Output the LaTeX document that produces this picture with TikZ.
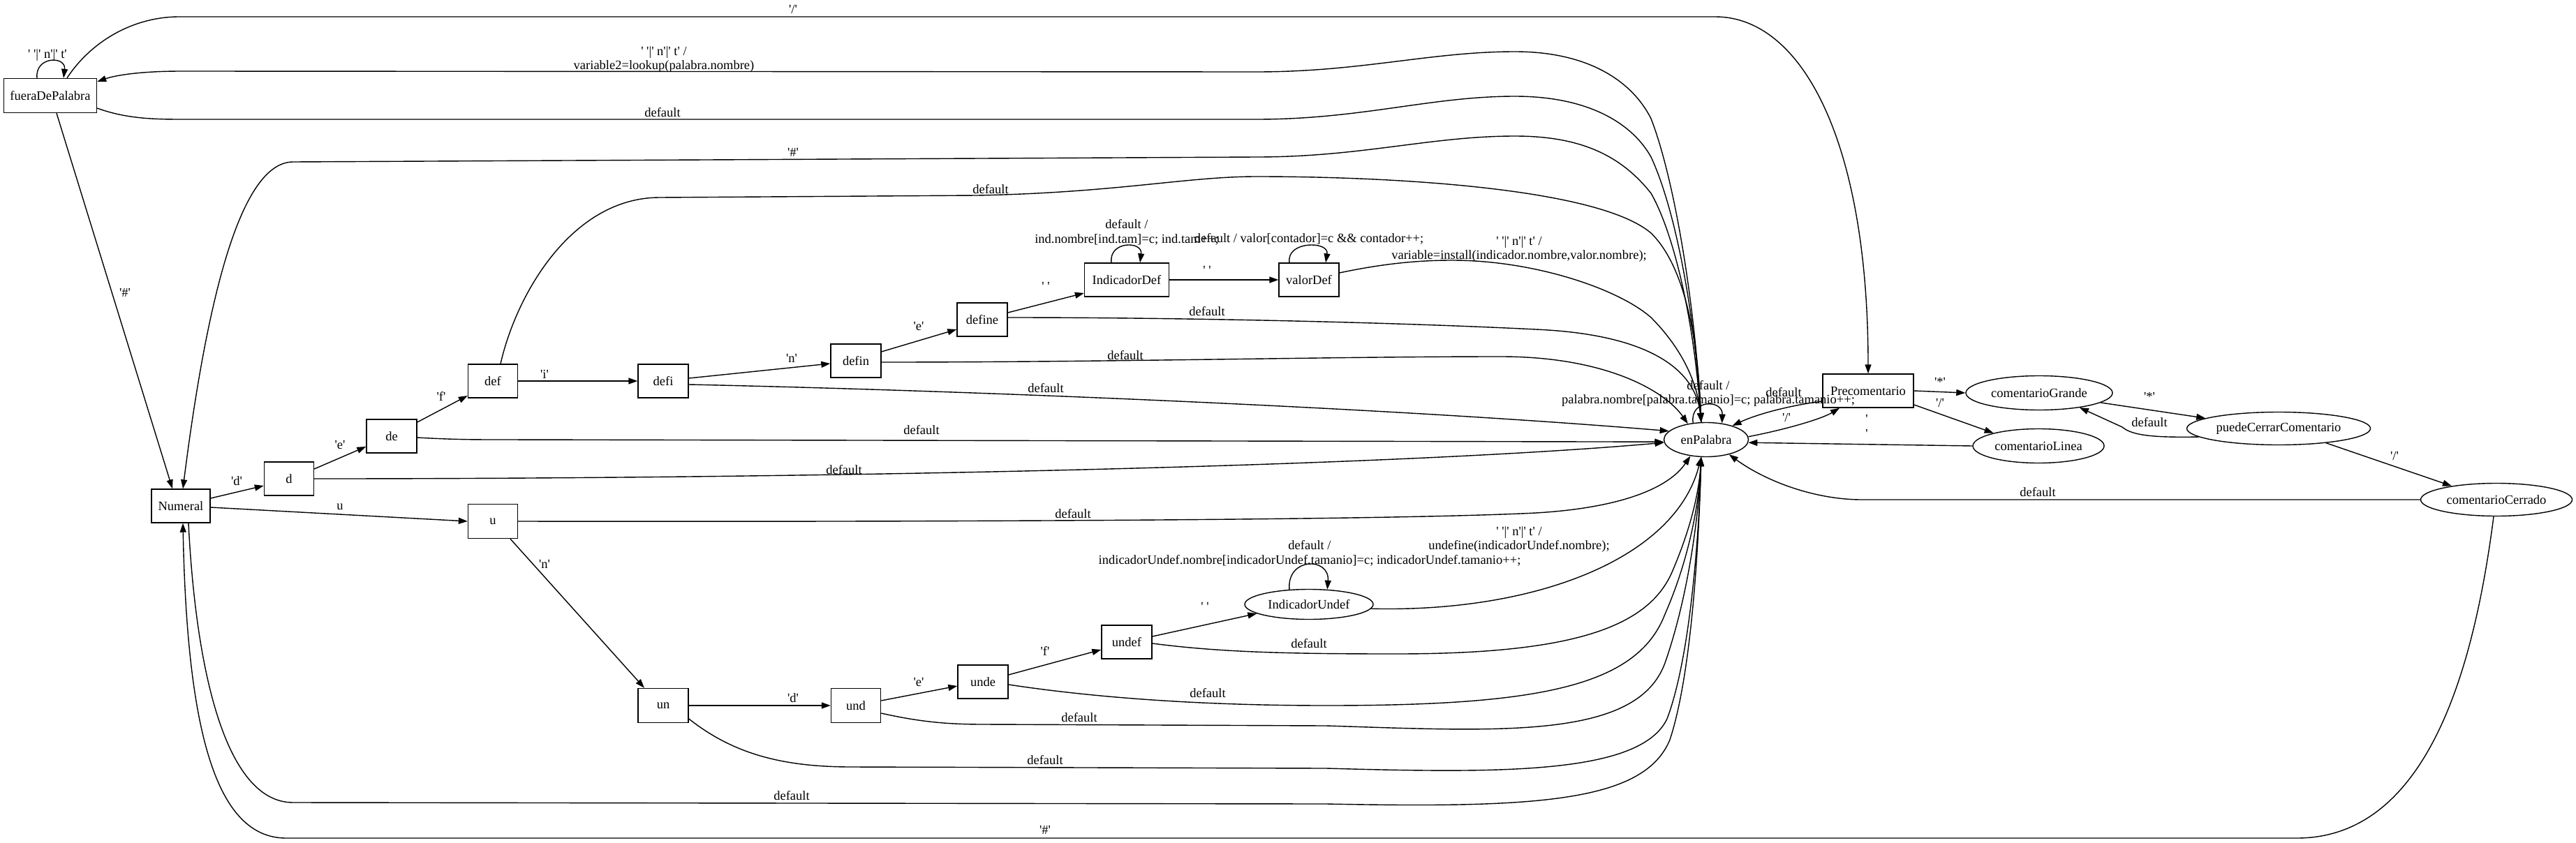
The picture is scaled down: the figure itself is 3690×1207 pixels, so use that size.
\documentclass[tikz,border=0pt]{standalone}
\usepackage{fontspec}
\setmainfont{Liberation Serif}
\usetikzlibrary{arrows.meta,shapes.geometric}
\newcommand\sq{\textquotesingle}
\newcommand\dfont{\fontsize{18.5pt}{20.5pt}\selectfont}
\begin{document}
\begin{tikzpicture}[x=1pt,y=-1pt,line width=1.4pt,
  box/.style={draw,rectangle,inner sep=2pt,font=\dfont,minimum height=48pt},
  oval/.style={draw,ellipse,inner sep=0pt,font=\dfont},
  lab/.style={inner sep=0pt,font=\dfont,align=center},
  arr/.style={-{Triangle[length=13pt,width=9pt]}}]
\fill[white] (0,0) rectangle (3690,1207);
\useasboundingbox (0,0) rectangle (3690,1207);
% nodes
\node[box,minimum width=133pt,minimum height=49pt] (fuera) at (72,137) {fueraDePalabra};
\node[box,minimum width=84pt] (Numeral) at (259,725) {Numeral};
\node[box,minimum width=71pt] (d) at (414,686) {d};
\node[box,minimum width=72pt] (de) at (561,625) {de};
\node[box,minimum width=71pt] (def) at (706,546) {def};
\node[box,minimum width=72pt] (defi) at (950,546) {defi};
\node[box,minimum width=72pt] (defin) at (1226,517) {defin};
\node[box,minimum width=72pt] (define) at (1407,458) {define};
\node[box,minimum width=121pt] (IndicadorDef) at (1614,401) {IndicadorDef};
\node[box,minimum width=86pt] (valorDef) at (1875,401) {valorDef};
\node[box,minimum width=71pt,minimum height=49pt] (u) at (706,747) {u};
\node[box,minimum width=72pt,minimum height=49pt] (un) at (950,1011) {un};
\node[box,minimum width=71pt,minimum height=49pt] (und) at (1226,1011) {und};
\node[box,minimum width=72pt] (unde) at (1408,977) {unde};
\node[box,minimum width=72pt] (undef) at (1614,920) {undef};
\node[box,minimum width=130pt] (Precomentario) at (2676,560) {Precomentario};
\node[oval,minimum width=184pt,minimum height=43pt] (IndicadorUndef) at (1875,866) {IndicadorUndef};
\node[oval,minimum width=121pt,minimum height=49pt] (enPalabra) at (2444,630) {enPalabra};
\node[oval,minimum width=210pt,minimum height=49pt] (comentarioGrande) at (2921,563) {comentarioGrande};
\node[oval,minimum width=188pt,minimum height=49pt] (comentarioLinea) at (2920,639) {comentarioLinea};
\node[oval,minimum width=263pt,minimum height=47pt] (puede) at (3264,614) {puedeCerrarComentario};
\node[oval,minimum width=217pt,minimum height=47pt] (comentarioCerrado) at (3576,716) {comentarioCerrado};
% edges
\draw[arr] ([xshift=-19pt]fuera.north) .. controls (50,80) and (95,80) .. ([xshift=19pt]fuera.north);
\draw[arr] ([xshift=24pt]fuera.north) .. controls (130,60) and (190,24) .. (257,24) -- (2457,24) .. controls (2580,24) and (2676,200) .. (Precomentario.north);
\draw[arr] (enPalabra.106) .. controls (2430,450) and (2400,260) .. (2365,170) .. controls (2340,120) and (2280,74) .. (2170,74) .. controls (2050,74) and (1950,103) .. (1800,103) -- (260,102) .. controls (200,102) and (165,108) .. ([yshift=20pt]fuera.east);
\draw[arr] ([yshift=-18pt]fuera.east) .. controls (180,170) and (220,171) .. (260,171) -- (1800,171) .. controls (1950,171) and (2050,138) .. (2170,138) .. controls (2280,138) and (2340,180) .. (2365,225) .. controls (2400,300) and (2428,450) .. (enPalabra.106);
\draw[arr] (enPalabra.106) .. controls (2425,430) and (2390,320) .. (2365,277) .. controls (2320,220) and (2260,195) .. (2170,195) .. controls (2050,195) and (1950,225) .. (1800,225) -- (420,232) .. controls (350,232) and (300,400) .. ([xshift=3pt]Numeral.north);
\draw[arr] ([xshift=9pt]fuera.south) -- ([xshift=-12pt]Numeral.north);
\draw[arr] ([yshift=11pt]Numeral.east) -- ([yshift=-10pt]d.west);
\draw[arr] ([yshift=14pt]d.east) -- ([yshift=-15pt]de.west);
\draw[arr] ([yshift=20pt]de.east) -- ([yshift=-21pt]def.west);
\draw[arr] (def.east) -- (defi.west);
\draw[arr] ([yshift=4pt]defi.east) -- ([yshift=-4pt]defin.west);
\draw[arr] ([yshift=13pt]defin.east) -- ([yshift=-14pt]define.west);
\draw[arr] ([yshift=10pt]define.east) -- ([yshift=-19pt]IndicadorDef.west);
\draw[arr] ([xshift=-22pt]IndicadorDef.north) .. controls (1588,345) and (1637,345) .. ([xshift=19pt]IndicadorDef.north);
\draw[arr] (IndicadorDef.east) -- (valorDef.west);
\draw[arr] ([xshift=-28pt]valorDef.north) .. controls (1842,345) and (1904,345) .. ([xshift=24pt]valorDef.north);
\draw[arr] ([yshift=10pt]valorDef.east) .. controls (1980,378) and (2030,373) .. (2080,373) .. controls (2200,373) and (2320,415) .. (2365,455) .. controls (2410,500) and (2432,550) .. (enPalabra.106);
\draw[arr] ([yshift=3pt]define.east) .. controls (1700,455) and (2000,462) .. (2200,472) .. controls (2380,480) and (2430,540) .. (enPalabra.106);
\draw[arr] ([yshift=-2pt]defin.east) .. controls (1600,519) and (1900,511) .. (2150,511) .. controls (2300,511) and (2385,560) .. (enPalabra.139);
\draw[arr] ([yshift=-5pt]defi.east) .. controls (1400,560) and (2000,585) .. (enPalabra.167);
\draw[arr] ([xshift=11pt]def.north) .. controls (740,420) and (820,283) .. (945,283) -- (1400,280) .. controls (1600,276) and (1700,253) .. (1800,253) .. controls (2000,253) and (2290,270) .. (2365,334) .. controls (2412,380) and (2432,480) .. (enPalabra.106);
\draw[arr] ([yshift=-2pt]de.east) .. controls (650,630) and (680,630) .. (720,630) -- (enPalabra.183);
\draw[arr] (d.east) .. controls (1200,686) and (2000,668) .. (enPalabra.184);
\draw[arr] ([yshift=-2pt]Numeral.east) -- (u.west);
\draw[arr] (u.east) .. controls (1400,748) and (2000,745) .. (2200,735) .. controls (2320,728) and (2390,700) .. (enPalabra.226);
\draw[arr] ([xshift=25pt]u.south) -- ([xshift=-27pt]un.north);
\draw[arr] (un.east) -- (und.west);
\draw[arr] ([yshift=7pt]und.east) -- ([yshift=-6pt]unde.west);
\draw[arr] ([yshift=10pt]unde.east) -- ([yshift=-11pt]undef.west);
\draw[arr] ([yshift=8pt]undef.east) -- (IndicadorUndef.190);
\draw[arr] (IndicadorUndef.143) .. controls (1843,798) and (1905,798) .. (IndicadorUndef.39);
\draw[arr] (IndicadorUndef.-4) .. controls (2200,878) and (2400,800) .. (enPalabra.-106);
\draw[arr] ([yshift=-2pt]undef.east) .. controls (1750,935) and (1850,937) .. (2000,937) .. controls (2250,937) and (2360,900) .. (2395,820) .. controls (2425,750) and (2434,700) .. (enPalabra.-106);
\draw[arr] ([yshift=-4pt]unde.east) .. controls (1550,997) and (1700,1011) .. (1900,1011) .. controls (2200,1011) and (2345,985) .. (2385,880) .. controls (2420,800) and (2434,720) .. (enPalabra.-106);
\draw[arr] ([yshift=-11pt]und.east) .. controls (1320,1035) and (1360,1038) .. (1410,1038) -- (1900,1040) .. controls (2150,1048) and (2345,1060) .. (2385,950) .. controls (2420,850) and (2434,730) .. (enPalabra.-106);
\draw[arr] ([yshift=-19pt]un.east) .. controls (1050,1080) and (1120,1099) .. (1220,1099) -- (1900,1101) .. controls (2150,1108) and (2350,1110) .. (2388,1030) .. controls (2422,940) and (2434,760) .. (enPalabra.-106);
\draw[arr] ([xshift=11pt]Numeral.south) .. controls (280,950) and (320,1150) .. (420,1150) -- (1900,1152) .. controls (2200,1158) and (2355,1150) .. (2392,1060) .. controls (2425,960) and (2434,760) .. (enPalabra.-106);
\draw[arr] ([xshift=-4pt]comentarioCerrado.south) .. controls (3545,950) and (3480,1201) .. (3290,1201) -- (410,1201) .. controls (310,1201) and (268,1050) .. ([xshift=3pt]Numeral.south);
\draw[arr] (enPalabra.128) .. controls (2420,572) and (2468,572) .. (enPalabra.46);
\draw[arr] ([yshift=-15pt]Precomentario.west) .. controls (2570,580) and (2520,592) .. (enPalabra.28);
\draw[arr] (enPalabra.4) .. controls (2560,615) and (2610,600) .. ([xshift=-41pt]Precomentario.south);
\draw[arr] (Precomentario.east) -- (comentarioGrande.west);
\draw[arr] ([yshift=-20pt]Precomentario.east) -- (comentarioLinea.164);
\draw[arr] (comentarioLinea.west) -- (enPalabra.-4);
\draw[arr] (comentarioGrande.-9) -- (puede.172);
\draw[arr] (puede.186) .. controls (3090,627) and (3055,625) .. (3040,612) -- (comentarioGrande.-20);
\draw[arr] (puede.-17) -- (comentarioCerrado.163);
\draw[arr] (comentarioCerrado.west) -- (2667,716) .. controls (2600,716) and (2530,690) .. (enPalabra.-33);
% labels
\node[lab] (l1) at (68,79) {\sq\ \sq|\sq\ n\sq|\sq\ t\sq};
\node[lab] (l2) at (1136,13) {\sq/\sq};
\node[lab] (l3) at (951,85) {\sq\ \sq|\sq\ n\sq|\sq\ t\sq\ /\\variable2=lookup(palabra.nombre)};
\node[lab] (l4) at (949,161) {default};
\node[lab] (l5) at (1136,218) {\sq\#\sq};
\node[lab] (l6) at (179,419) {\sq\#\sq};
\node[lab] (l7) at (339,689) {\sq d\sq};
\node[lab] (l8) at (487,638) {\sq e\sq};
\node[lab] (l9) at (632,568) {\sq f\sq};
\node[lab] (l10) at (780,536) {\sq i\sq};
\node[lab] (l11) at (1134,513) {\sq n\sq};
\node[lab] (l12) at (1316,468) {\sq e\sq};
\node[lab] (l13) at (1498,410) {\sq\ \sq};
\node[lab] (l14) at (1614,333) {default /\\ind.nombre[ind.tam]=c; ind.tam++;};
\node[lab] (l15) at (1729,387) {\sq\ \sq};
\node[lab] (l16) at (1875,342) {default / valor[contador]=c \&\& contador++;};
\node[lab] (l17) at (2176,357) {\sq\ \sq|\sq\ n\sq|\sq\ t\sq\ /\\variable=install(indicador.nombre,valor.nombre);};
\node[lab] (l18) at (1729,446) {default};
\node[lab] (l19) at (1612,509) {default};
\node[lab] (l20) at (1498,556) {default};
\node[lab] (l21) at (1419,271) {default};
\node[lab] (l22) at (1320,616) {default};
\node[lab] (l23) at (1209,673) {default};
\node[lab] (l24) at (487,726) {u};
\node[lab] (l25) at (1537,736) {default};
\node[lab] (l26) at (780,808) {\sq n\sq};
\node[lab] (l27) at (1136,1000) {\sq d\sq};
\node[lab] (l28) at (1316,978) {\sq e\sq};
\node[lab] (l29) at (1497,933) {\sq f\sq};
\node[lab] (l30) at (1726,869) {\sq\ \sq};
\node[lab] (l31) at (1876,793) {default /\\indicadorUndef.nombre[indicadorUndef.tamanio]=c; indicadorUndef.tamanio++;};
\node[lab] (l32) at (2176,773) {\sq\ \sq|\sq\ n\sq|\sq\ t\sq\ /\\undefine(indicadorUndef.nombre);};
\node[lab] (l33) at (1875,922) {default};
\node[lab] (l34) at (1730,993) {default};
\node[lab] (l35) at (1546,1028) {default};
\node[lab] (l36) at (1497,1089) {default};
\node[lab] (l37) at (1134,1140) {default};
\node[lab] (l38) at (1497,1189) {\sq\#\sq};
\node[lab] (l39) at (2447,564) {default /\\palabra.nombre[palabra.tamanio]=c; palabra.tamanio++;};
\node[lab] (l40) at (2555,562) {default};
\node[lab] (l41) at (2559,598) {\sq/\sq};
\node[lab] (l42) at (2779,547) {\sq*\sq};
\node[lab] (l43) at (2779,577) {\sq/\sq};
\node[lab] (l44) at (2674,611) {\sq\\\sq};
\node[lab] (l45) at (3079,568) {\sq*\sq};
\node[lab] (l46) at (3079,605) {default};
\node[lab] (l47) at (3430,653) {\sq/\sq};
\node[lab] (l48) at (2919,705) {default};
\end{tikzpicture}
\end{document}
